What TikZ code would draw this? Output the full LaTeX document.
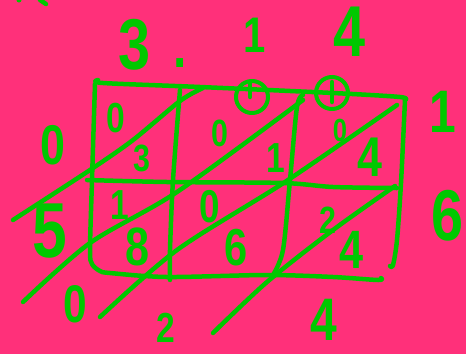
\documentclass[tikz,border=0pt]{standalone}
\usepackage{fontspec}
\setmainfont{Liberation Sans}
\newfontfamily\handfont[FakeStretch=0.8]{Liberation Sans Bold}
\usetikzlibrary{positioning}
\definecolor{latticepink}{RGB}{255,48,122}
\definecolor{latticegreen}{RGB}{0,200,0}

\begin{document}
\begin{tikzpicture}[x=1pt, y=-1pt,
  stroke/.style={draw=latticegreen, line width=4.5pt, line cap=round, line join=round},
  digit/.style={text=latticegreen, inner sep=0pt, font=\handfont\fontsize{#1}{#1}\selectfont},
  carry/.style={stroke, line width=4pt, circle, minimum size=32pt, inner sep=0pt}
]
    \fill[latticepink] (0,0) rectangle (466,354);
    \useasboundingbox (0,0) rectangle (466,354);

    % frame and cells
    \draw[stroke] plot[smooth] coordinates {(98,80) (103,83) (200,87) (333,93) (400,97) (405,100)};
    \draw[stroke] plot[smooth] coordinates {(405,100) (401,183) (397,240) (393,265) (390,266)};
    \draw[stroke] plot[smooth] coordinates {(95,84) (92,180) (90,250) (92,264) (100,271) (110,273) (167,277) (267,275) (333,277) (378,280) (381,278)};
    \draw[stroke] plot[smooth] coordinates {(87,180) (167,182) (283,183) (333,187) (397,188)};
    \draw[stroke] plot[smooth] coordinates {(180,90) (173,180) (170,250) (170,280)};
    \draw[stroke] plot[smooth] coordinates {(303,95) (297,107) (290,180) (283,250) (273,275)};

    % diagonals
    \draw[stroke] plot[smooth] coordinates {(13,220) (90,170) (133,140) (180,101) (203,88)};
    \draw[stroke] plot[smooth] coordinates {(303,100) (177,192) (90,243) (23,302)};
    \draw[stroke] plot[smooth] coordinates {(397,105) (285,182) (177,250) (100,317)};
    \draw[stroke] plot[smooth] coordinates {(395,186) (333,230) (267,282) (213,333)};

    % carries
    \node[carry] (carryone) at (252,97) {};
    \draw[stroke] (250,82) -- (250,97);
    \node[carry] (carrytwo) at (332,93) {};
    \draw[stroke] (332,82) -- (332,102);

    \draw[stroke] (40,0) -- (46,4);
    \fill[latticegreen] (19,0) circle (2.5);

    % factors
    \node[digit=72] (topthree) at (135,45) {3};
    \node[digit=60] (toppoint) at (180,63) {.};
    \node[digit=50] (topone) at (255,35) {1};
    \node[digit=72] (topfour) at (350,32) {4};
    \node[digit=60] (rightone) at (443,112) {1};
    \node[digit=72] (rightsix) at (448,216) {6};

    % result
    \node[digit=56] (leftzero) at (53,145) {0};
    \node[digit=78] (leftfive) at (50,231) {5};
    \node[digit=53] (botzero) at (75,304) {0};
    \node[digit=42] (bottwo) at (166,328) {2};
    \node[digit=60] (botfour) at (324,320) {4};

    % cell products
    \node[digit=42] (aup) at (116,118) {0};
    \node[digit=38] (alow) at (142,158) {3};
    \node[digit=38] (bup) at (220,133) {0};
    \node[digit=42] (blow) at (276,158) {1};
    \node[digit=32] (cup) at (340,130) {0};
    \node[digit=56] (clow) at (370,157) {4};
    \node[digit=42] (dup) at (120,205) {1};
    \node[digit=54] (dlow) at (138,247) {8};
    \node[digit=46] (eup) at (210,207) {0};
    \node[digit=52] (elow) at (236,248) {6};
    \node[digit=38] (fup) at (328,220) {2};
    \node[digit=54] (flow) at (352,250) {4};
\end{tikzpicture}
\end{document}
